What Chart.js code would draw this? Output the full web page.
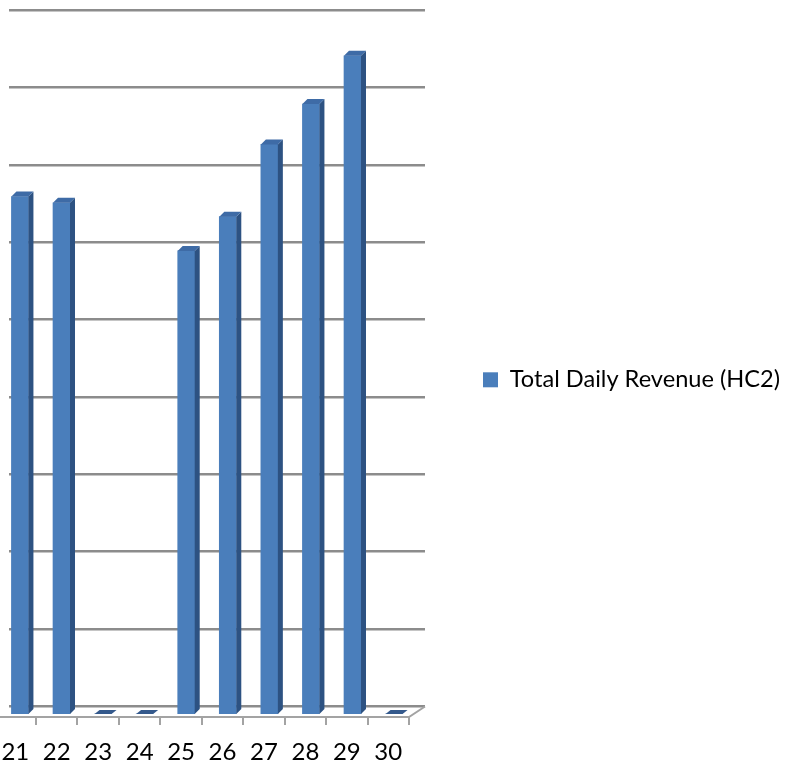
<!DOCTYPE html>
<html>
<head>
<meta charset="utf-8">
<script src="https://cdn.jsdelivr.net/npm/chart.js@4/dist/chart.umd.min.js"></script>
<style>
  html, body { margin: 0; padding: 0; background: #ffffff; overflow: hidden; }
  #wrap { position: relative; width: 790px; height: 771px; }
</style>
</head>
<body>
<div id="wrap"><canvas id="c"></canvas></div>
<script>
// ---- data (value axis labels are cropped out; one gridline = 1000) ----
const categories = ['21', '22', '23', '24', '25', '26', '27', '28', '29', '30'];
const revenue    = [6660, 6580, 0, 0, 5960, 6400, 7330, 7850, 8470, 0];
const gridValues = [0, 1000, 2000, 3000, 4000, 5000, 6000, 7000, 8000, 9000];
const seriesName = 'Total Daily Revenue (HC2)';

// ---- styling ----
const FRONT = '#4a7ebb';
const SIDE  = '#2d5282';
const TOP   = '#3e6ba6';
const FLAT  = '#34598c';
const GRID  = '#8c8c8c';
const FLOOR = '#a3a3a3';
const FONT  = 'Lato, "Open Sans", "Liberation Sans", sans-serif';
const PAD_RIGHT = 0;
const PLOT_RIGHT = 425;

// legend font sized so that the legend text is about 270px wide, as in the picture
const mctx = document.createElement('canvas').getContext('2d');
mctx.font = '24px ' + FONT;
const LEGEND_SIZE = Math.round(24 * 270 / mctx.measureText(seriesName).width * 10) / 10;

const bar3d = {
  id: 'bar3d',
  beforeDatasetsDraw(chart) {
    const ctx = chart.ctx;
    const xl = chart.scales.x2, yb = chart.scales.yb, yf = chart.scales.y;
    const frontY = yf.getPixelForValue(0) + 3;
    const backY = yb.getPixelForValue(0);
    const x0 = xl.getPixelForValue(-0.5), x1 = xl.getPixelForValue(categories.length - 0.5);
    ctx.save();
    ctx.strokeStyle = FLOOR;
    ctx.lineWidth = 2;
    ctx.beginPath();
    ctx.moveTo(x0, frontY);
    ctx.lineTo(x1, frontY);
    ctx.lineTo(chart.chartArea.right, backY);
    ctx.stroke();
    ctx.beginPath();
    for (let i = 0; i <= categories.length; i++) {
      const tx = Math.round(xl.getPixelForValue(i - 0.5));
      ctx.moveTo(tx, frontY);
      ctx.lineTo(tx, frontY + 8);
    }
    ctx.stroke();
    ctx.restore();
  },
  afterDatasetsDraw(chart) {
    const ctx = chart.ctx;
    const meta = chart.getDatasetMeta(0);
    const d = 5;
    ctx.save();
    meta.data.forEach(bar => {
      const {x, y, base, width} = bar.getProps(['x', 'y', 'base', 'width'], true);
      const l = x - width / 2, r = x + width / 2;
      if (Math.abs(base - y) < 0.5) {
        ctx.fillStyle = FLAT;
        ctx.beginPath();
        ctx.moveTo(l, base); ctx.lineTo(l + d, base - d + 1);
        ctx.lineTo(r + d, base - d + 1); ctx.lineTo(r, base);
        ctx.closePath(); ctx.fill();
        return;
      }
      ctx.fillStyle = SIDE;
      ctx.beginPath();
      ctx.moveTo(r, y); ctx.lineTo(r + d, y - d);
      ctx.lineTo(r + d, base - d); ctx.lineTo(r, base);
      ctx.closePath(); ctx.fill();
      ctx.fillStyle = TOP;
      ctx.beginPath();
      ctx.moveTo(l, y); ctx.lineTo(l + d, y - d);
      ctx.lineTo(r + d, y - d); ctx.lineTo(r, y);
      ctx.closePath(); ctx.fill();
    });
    ctx.restore();
  }
};

new Chart(document.getElementById('c'), {
  type: 'bar',
  data: {
    datasets: [{
      label: seriesName,
      data: revenue.map((v, i) => ({x: i, y: v})),
      backgroundColor: FRONT,
      borderWidth: 0,
      barThickness: 17,
      xAxisID: 'x',
      yAxisID: 'y'
    }]
  },
  options: {
    responsive: true,
    maintainAspectRatio: false,
    animation: false,
    devicePixelRatio: 1,
    layout: { padding: { left: 9, top: 10, right: PAD_RIGHT, bottom: 0 } },
    plugins: {
      tooltip: { enabled: false },
      legend: {
        position: 'right',
        align: 'start',
        maxWidth: 500,
        title: {
          display: true,
          text: ' ',
          font: { family: FONT, size: 10 },
          padding: { top: 336, bottom: 0 }
        },
        labels: {
          boxWidth: 15,
          boxHeight: 15,
          padding: 10,
          color: '#000000',
          font: { family: FONT, size: LEGEND_SIZE }
        }
      }
    },
    scales: {
      x: {
        type: 'linear',
        display: false,
        offset: false,
        min: -0.263,
        max: 9.744
      },
      x2: {
        type: 'linear',
        position: 'bottom',
        offset: false,
        min: -0.152,
        max: 9.886,
        grid: { display: false, drawTicks: false },
        border: { display: false },
        afterBuildTicks: s => { s.ticks = categories.map((c, i) => ({ value: i })); },
        afterFit: s => { s.height = 57; s.paddingLeft = 0; s.paddingRight = 0; },
        ticks: {
          padding: 24,
          maxRotation: 0,
          autoSkip: false,
          color: '#000000',
          font: { family: FONT, size: 24 },
          callback: v => categories[v]
        }
      },
      y: {
        type: 'linear',
        display: false,
        min: 0,
        max: 9060
      },
      yb: {
        type: 'linear',
        position: 'right',
        min: -97,
        max: 9000,
        afterBuildTicks: s => { s.ticks = gridValues.map(v => ({ value: v })); },
        afterFit: s => {
          const lw = s.chart.legend ? s.chart.legend.width : 0;
          s.width = Math.max(0, s.chart.width - PAD_RIGHT - lw - PLOT_RIGHT);
        },
        grid: { color: GRID, lineWidth: 2.5, drawTicks: false },
        border: { display: false },
        ticks: { display: false }
      }
    }
  },
  plugins: [bar3d]
});
</script>
</body>
</html>
